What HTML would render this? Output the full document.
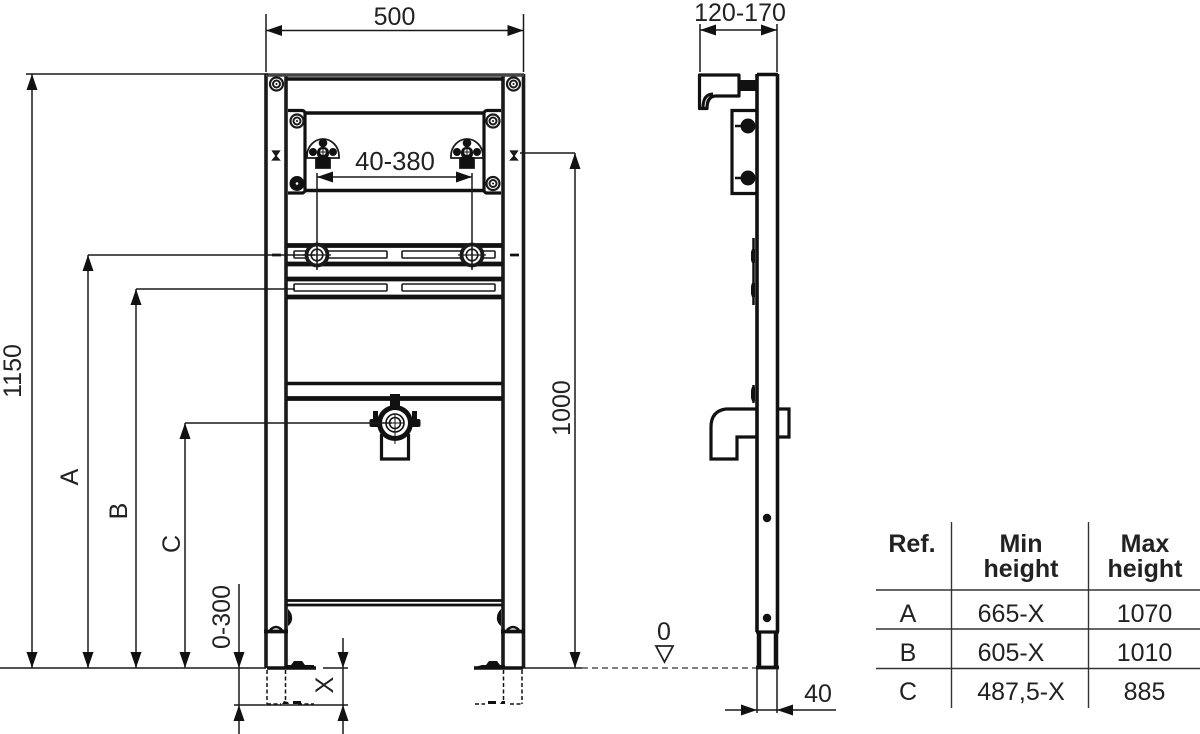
<!DOCTYPE html>
<html><head><meta charset="utf-8"><style>
html,body{margin:0;padding:0;background:#fff}
svg{display:block}
text{font-family:"Liberation Sans",sans-serif;fill:#222}
.d{stroke:#1a1a1a;stroke-width:1.5;fill:none}
.t{stroke:#1a1a1a;stroke-width:3.6;fill:none}
.m{stroke:#1a1a1a;stroke-width:2;fill:none}
.a{fill:#111;stroke:none}
.b{stroke:#333;stroke-width:1.4;fill:none}
</style></head><body>
<svg width="1200" height="734" viewBox="0 0 1200 734" xmlns="http://www.w3.org/2000/svg">
<defs>
<g id="w"><circle r="6.500" fill="#fff" stroke="#1a1a1a" stroke-width="2.200"/><circle r="3.500" fill="none" stroke="#1a1a1a" stroke-width="2"/><circle r="1" fill="#111"/></g>
<g id="c"><path d="M-16 4 A16 17 0 0 1 16 4 L16 6 L7 6 L7 16 L-7 16 L-7 6 L-16 6Z" fill="#fff" stroke="#1a1a1a" stroke-width="1.800"/><circle cy="-9" r="4.300" fill="#111"/><circle cx="-10" cy="0" r="4" fill="#111"/><circle cx="10" cy="0" r="4" fill="#111"/><rect x="-7" y="5" width="14" height="11" fill="#111"/><rect x="-6" y="-5" width="12" height="12" rx="5" fill="#111"/><circle r="3" cy="0" fill="#fff"/><path d="M-3 0H3M0-3V3" stroke="#111" stroke-width="1"/></g>
<g id="p"><circle r="10.500" fill="#fff" stroke="#1a1a1a" stroke-width="3.800"/><circle r="5.800" fill="none" stroke="#1a1a1a" stroke-width="1.600"/><path d="M-14 0H14M0-14V14" stroke="#1a1a1a" stroke-width="1.200"/></g>
</defs>

<!-- front frame -->
<path class="t" d="M266 74V668M286 74V635M286 635V668M503 74V668M523.500 74V668"/>
<path d="M266 75H524" stroke="#444" stroke-width="3.500"/>
<path d="M286 79H503" stroke="#111" stroke-width="3.500"/>
<use href="#w" x="276.500" y="84"/><use href="#w" x="513.500" y="84"/>
<path d="M272.500 151h7l-3.500 5zM272.500 160h7l-3.500-4zM510.500 151h7l-3.500 5zM510.500 160h7l-3.500-4z" fill="#222" stroke="#111" stroke-width="1.200"/>

<!-- mounting plate -->
<path stroke="#111" stroke-width="3.400" fill="none" d="M305 113H484M305 190.500H484"/>
<path d="M288 110.500H302a3 3 0 0 1 3 3V190a3 3 0 0 1-3 3H288M501 110.500H487a3 3 0 0 0-3 3V190a3 3 0 0 0 3 3H501" stroke="#111" stroke-width="3.200" fill="none"/>
<use href="#w" x="297" y="121"/><use href="#w" x="493" y="121"/>
<circle cx="297" cy="183.500" r="7.500" fill="#111"/><circle cx="297" cy="183.500" r="1.300" fill="#fff"/><use href="#w" x="493" y="183.500"/>
<use href="#c" x="323" y="152"/><use href="#c" x="467" y="152"/>

<!-- bars -->
<path d="M287 245.500H502M287 264H502M287 279H502M287 297H502" stroke="#111" stroke-width="4.800"/>
<path d="M286 268.500V272M503 268.500V272" class="m"/>
<g fill="#fff" stroke="#1a1a1a" stroke-width="1.600"><rect x="294" y="251" width="93" height="7" rx="1"/><rect x="402" y="251" width="93" height="7" rx="1"/><rect x="294" y="284" width="93" height="7" rx="1"/><rect x="402" y="284" width="93" height="7" rx="1"/></g>
<path d="M272 255h9M510 255h9" stroke="#111" stroke-width="2.800"/>
<use href="#p" x="317" y="255"/><use href="#p" x="472" y="255"/>

<!-- lower bars and valve -->
<path d="M287 383.500H502" stroke="#111" stroke-width="3.400"/><path d="M287 398.500H502" stroke="#111" stroke-width="4.800"/>
<path d="M381.500 434V459H408.500V434" stroke="#111" stroke-width="3.200" fill="none"/>
<rect x="390" y="394" width="10" height="14" fill="#111"/>
<rect x="373" y="411" width="5" height="10" fill="#111"/><rect x="412" y="411" width="5" height="10" fill="#111"/><rect x="369.500" y="419" width="51" height="8" rx="2" fill="#111"/>
<circle cx="395" cy="423" r="18" fill="#111"/><circle cx="395" cy="423" r="13" fill="#fff"/><circle cx="395" cy="423" r="9" fill="none" stroke="#111" stroke-width="1.600"/><circle cx="395" cy="423" r="5.500" fill="none" stroke="#111" stroke-width="1.600"/><path d="M386 423H404M395 414V444" stroke="#111" stroke-width="1"/>
<path d="M287 600.500H502M287 605H502" stroke="#111" stroke-width="2.800"/>

<!-- feet -->
<path d="M264 631.500H288M501 631.500H525" stroke="#111" stroke-width="3.800"/>
<path d="M270 630q6-6 12 0M507 630q6-6 12 0" stroke="#111" stroke-width="2.400" fill="none"/>
<path d="M288 609q5 5 4 11q-1 4-4 6zM501 609q-5 5-4 11q1 4 4 6z" fill="#111"/>
<path d="M267 668H316M474 668H523" stroke="#111" stroke-width="3.400"/>
<path d="M283 667l4-2h4l3-4h8l3 4h9v3h-31zM475 667l7-2h4l3-4h8l3 4h5v3h-30z" fill="#111"/>
<path d="M267 670V704M285.500 670V704M503.500 670V704M522 670V704" stroke="#111" stroke-width="1.500" stroke-dasharray="4 2.500"/>
<path d="M267 704H281M298 704H314M475 704H485M510 704H522" stroke="#111" stroke-width="1.400" stroke-dasharray="4 2.500"/>
<path d="M282 704l2-3 4 1 1 2zM293 704v-3h8v3zM488 704v-3h8v3zM500 704l2-3h3v3z" fill="#111"/>

<!-- front dimensions -->
<path class="d" d="M266 14V72M523.500 14V72M266 30.500H523.500"/>
<path class="a" d="M266 30.500l16-5.500v11zM523.500 30.500l-16-5.500v11z"/>
<path class="d" d="M26 74H268M32 74V668M0 668H266M88 255H315M88 255V668M136 289H295M136 289V668M185 423H392M185 423V668M575 153H520M575 153V668M523 668H582"/>
<path class="a" d="M32 74l-5.500 16h11zM32 668l-5.500-16h11zM88 255l-5.500 16h11zM88 668l-5.500-16h11zM136 289l-5.500 16h11zM136 668l-5.500-16h11zM185 423l-5.500 16h11zM185 668l-5.500-16h11zM575 153l-5.500 16h11zM575 668l-5.500-16h11z"/>
<path class="d" d="M317 173V270M472 173V270M317 177H472"/>
<path class="a" d="M317 177l16-5.500v11zM472 177l-16-5.500v11z"/>
<path class="d" d="M239 584V734M234 705H348M343 638V734M348 668H323"/>
<path class="a" d="M239 668l-5.500-16h11zM239 705l-5.500 16h11zM343 668l-5.500-16h11zM343 705l-5.500 16h11z"/>
<path d="M582 668H757" stroke="#333" stroke-width="1.300" stroke-dasharray="6 4"/>
<path d="M656 646H673L664.500 662Z" fill="#fff" stroke="#222" stroke-width="1.800"/>

<!-- side view -->
<path d="M757 74V632M777.500 74V632" stroke="#111" stroke-width="3.600" fill="none"/>
<path d="M757 74.500H778" stroke="#111" stroke-width="3.400"/>
<path d="M699.500 75H739V96H716Q707 96 707 108.500H699.500Z" stroke="#111" stroke-width="3.200" fill="#fff" stroke-linejoin="round"/>
<path d="M703 108q0-14 10-14" stroke="#111" stroke-width="3" fill="none"/>
<rect x="739" y="80" width="18" height="11" fill="#111"/>
<path d="M756 110.500H732V193.500H756" stroke="#111" stroke-width="3.200" fill="none"/>
<circle cx="748" cy="126" r="7.500" fill="#111"/><circle cx="748" cy="178" r="7.500" fill="#111"/>
<path d="M735 126h8M735 178h8" stroke="#111" stroke-width="2.500"/>
<path d="M753.500 238V305M753.500 385V403" stroke="#111" stroke-width="2.500"/>
<path d="M755 249h-3l-1 3v8l1 3h3zM755 283h-3l-1 3v8l1 3h3zM755 387h-3l-1 3v8l1 3h3z" fill="#111"/>
<path d="M756 409H726q-15 2-15 18V459H737V437H756" stroke="#111" stroke-width="3.200" fill="none"/>
<path d="M778 409H789V437H778" stroke="#111" stroke-width="3.200" fill="none"/>
<circle cx="767" cy="518" r="4.200" fill="#111"/><circle cx="767" cy="618" r="4.200" fill="#111"/>
<path d="M756 632H779" stroke="#111" stroke-width="3.200"/>
<path d="M759 632V667M776 632V667" stroke="#111" stroke-width="4.500" fill="none"/>
<path d="M756 667.500H779" stroke="#111" stroke-width="3.800"/>
<path class="d" d="M757 668V713M777 668V713M725 710H836M700 24V72M777 24V72M700 30H777"/>
<path class="a" d="M757 710l-16-5.500v11zM777 710l16-5.500v11zM700 30l16-5.500v11zM777 30l-16-5.500v11z"/>

<!-- dimension labels -->
<g font-size="25">
<text x="394.500" y="25" text-anchor="middle">500</text>
<text x="395" y="170" text-anchor="middle" font-size="25.600">40-380</text>
<text x="740" y="21" text-anchor="middle">120-170</text>
<text x="664" y="640" text-anchor="middle">0</text>
<text x="818" y="702" text-anchor="middle">40</text>
<text transform="translate(21 371) rotate(-90)" text-anchor="middle">1150</text>
<text transform="translate(78 477) rotate(-90)" text-anchor="middle">A</text>
<text transform="translate(127 511) rotate(-90)" text-anchor="middle">B</text>
<text transform="translate(180 544) rotate(-90)" text-anchor="middle">C</text>
<text transform="translate(570 408) rotate(-90)" text-anchor="middle">1000</text>
<text transform="translate(230 617) rotate(-90)" text-anchor="middle">0-300</text>
<text transform="translate(333 685) rotate(-90)" text-anchor="middle">X</text>
</g>

<!-- table -->
<path class="b" d="M951.500 522V708M1088.500 522V708"/>
<path class="b" stroke-width="1.700" d="M876 590H1200"/>
<path class="b" d="M876 629H1200M876 668.500H1200"/>
<g font-size="25" font-weight="bold" text-anchor="middle">
<text x="912" y="552">Ref.</text><text x="1021" y="552">Min</text><text x="1021" y="577">height</text><text x="1145" y="552">Max</text><text x="1145" y="577">height</text>
</g>
<g font-size="25" text-anchor="middle">
<text x="908" y="622">A</text><text x="1011" y="622">665-X</text><text x="1144.500" y="622">1070</text>
<text x="908" y="661">B</text><text x="1011" y="661">605-X</text><text x="1144.500" y="661">1010</text>
<text x="908" y="700">C</text><text x="1021" y="700">487,5-X</text><text x="1144.500" y="700">885</text>
</g>
</svg>
</body></html>
